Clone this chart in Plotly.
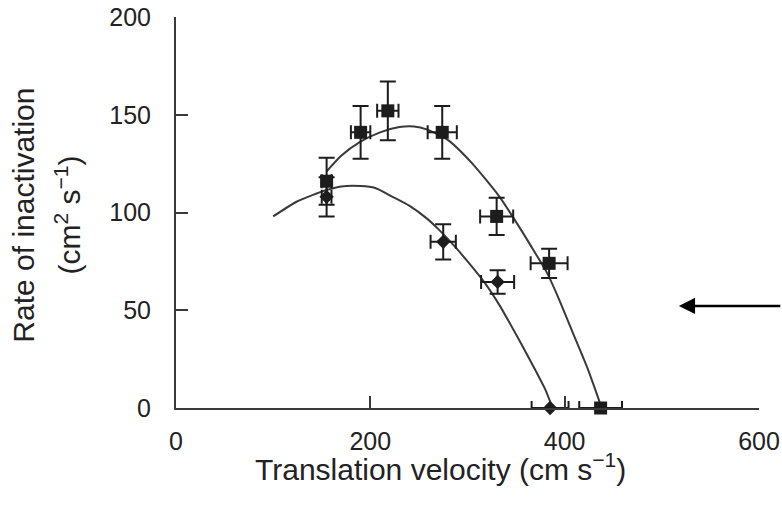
import plotly.graph_objects as go

# ---- data ----
sq_x = [155, 190, 218, 274, 330, 384, 437]
sq_y = [116, 141, 152, 141, 98, 74, 0]
sq_yerr = [12, 13.5, 15, 13.5, 9.5, 7.5, 0]
sq_xerr = [5, 10, 11, 15, 17, 19, 22]

dia_x = [155, 275, 331, 385]
dia_y = [108, 85, 64.5, 0]
dia_yerr = [10, 9, 6, 0]
dia_xerr = [5, 13, 17, 19]

# fitted curves
sq_curve_x = [155, 170, 189, 210, 230, 245, 258, 280, 305, 333, 354, 370, 382, 393, 408, 423, 436]
sq_curve_y = [121, 129, 136, 141, 143.7, 144, 142.5, 137, 125, 108, 92, 79, 69, 57, 39, 21, 3]

dia_curve_x = [100, 124, 141, 155, 170, 190, 205, 223, 240, 258, 270, 288, 305, 320, 333, 354, 367, 380, 386]
dia_curve_y = [98, 105.5, 109, 111.5, 113.3, 113.5, 112.5, 108, 103.5, 97, 91.5, 82, 72, 62.5, 52.5, 34, 22, 9.5, 2]

x_ticks = [0, 200, 400, 600]
y_ticks = [0, 50, 100, 150, 200]

INK = "#1c1c1c"
LINE = "#3a3a3a"
FONT = "Liberation Sans, Arial, sans-serif"

fig = go.Figure()

fig.add_trace(go.Scatter(x=sq_curve_x, y=sq_curve_y, mode="lines",
                         line=dict(color=LINE, width=2, shape="spline", smoothing=0.6),
                         hoverinfo="skip", showlegend=False))
fig.add_trace(go.Scatter(x=dia_curve_x, y=dia_curve_y, mode="lines",
                         line=dict(color=LINE, width=2, shape="spline", smoothing=0.6),
                         hoverinfo="skip", showlegend=False))

fig.add_trace(go.Scatter(
    x=sq_x, y=sq_y, mode="markers", showlegend=False, cliponaxis=False,
    marker=dict(symbol="square", size=13, color=INK),
    error_y=dict(type="data", array=sq_yerr, color=INK, thickness=2, width=8),
    error_x=dict(type="data", array=sq_xerr, color=INK, thickness=2, width=7),
))
fig.add_trace(go.Scatter(
    x=dia_x, y=dia_y, mode="markers", showlegend=False, cliponaxis=False,
    marker=dict(symbol="diamond", size=11, color=INK),
    error_y=dict(type="data", array=dia_yerr, color=INK, thickness=2, width=8),
    error_x=dict(type="data", array=dia_xerr, color=INK, thickness=2, width=7),
))

axis_common = dict(showgrid=False, zeroline=False, showline=True, linecolor=LINE, linewidth=2,
                   ticks="inside", ticklen=12, tickwidth=2, tickcolor=LINE, automargin=False,
                   tickfont=dict(family=FONT, size=25, color="#222222"))

fig.update_xaxes(range=[0, 600], tickvals=x_ticks, ticklabelstandoff=10, **axis_common)
fig.update_yaxes(range=[0, 200], tickvals=y_ticks, ticklabelstandoff=18, **axis_common)

fig.add_annotation(text="Translation velocity (cm s<sup>−1</sup>)", xref="paper", yref="paper",
                   x=0.4545, y=-0.152, xanchor="center", yanchor="middle", showarrow=False,
                   font=dict(family=FONT, size=30, color="#222222"))
fig.add_annotation(text="Rate of inactivation", xref="paper", yref="paper",
                   x=-0.263, y=0.4936, xanchor="center", yanchor="middle", showarrow=False,
                   textangle=-90, font=dict(family=FONT, size=30, color="#222222"))
fig.add_annotation(text="(cm<sup>2</sup> s<sup>−1</sup>)", xref="paper", yref="paper",
                   x=-0.186, y=0.4936, xanchor="center", yanchor="middle", showarrow=False,
                   textangle=-90, font=dict(family=FONT, size=30, color="#222222"))

# arrow on the right
fig.add_annotation(x=517.5, y=52.2, xref="x", yref="y", text="", showarrow=True,
                   ax=103, ay=0, axref="pixel", ayref="pixel",
                   arrowhead=2, arrowsize=1.3, arrowwidth=2.5, arrowcolor="#000000", standoff=0)

fig.update_layout(width=782, height=505, margin=dict(l=176, r=23, t=17, b=97),
                  paper_bgcolor="white", plot_bgcolor="white",
                  font=dict(family=FONT, color="#222222"))

fig.write_html("out.html")
